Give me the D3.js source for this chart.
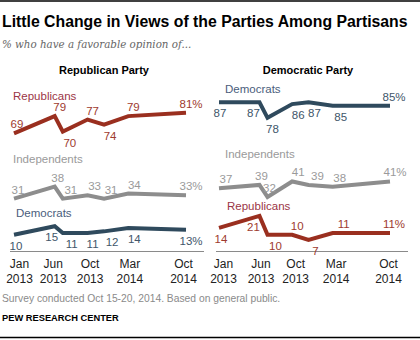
<!DOCTYPE html>
<html>
<head>
<meta charset="utf-8">
<script src="https://cdn.jsdelivr.net/npm/d3@7"></script>
<style>
  html, body { margin: 0; padding: 0; background: #fff; }
  svg { display: block; font-family: "Liberation Sans", Arial, sans-serif; }
</style>
</head>
<body>
<svg id="chart" width="420" height="340"></svg>
<script>
// Survey waves
const surveyDates = ["2013-01-01", "2013-06-01", "2013-07-01", "2013-10-01", "2013-12-01", "2014-03-01", "2014-10-01"];
const tickDates = ["2013-01-01", "2013-06-01", "2013-10-01", "2014-03-01", "2014-10-01"];
const tickMonths = ["Jan", "Jun", "Oct", "Mar", "Oct"];
const tickYears = ["2013", "2013", "2013", "2014", "2014"];

// Favorable view of the Republican Party
const repPartyRepublicans = [69, 79, 70, 77, 74, 79, 81];
const repPartyIndependents = [31, 38, 31, 33, 31, 34, 33];
const repPartyDemocrats = [10, 15, 11, 11, 12, 14, 13];

// Favorable view of the Democratic Party
const demPartyDemocrats = [87, 87, 78, 86, 87, 85, 85];
const demPartyIndependents = [37, 39, 32, 41, 39, 38, 41];
const demPartyRepublicans = [14, 21, 10, 10, 7, 11, 11];

const parse = d3.timeParse("%Y-%m-%d");
const dates = surveyDates.map(parse);
const ticks = tickDates.map(parse);

const colors = {
  Republicans: { line: "#9a2f1f", text: "#9e3a2e", name: "#9b3546" },
  Independents: { line: "#8d8d8d", text: "#9a9a9a", name: "#9a9a9a" },
  Democrats: { line: "#2f4a5d", text: "#41566a", name: "#4a5d7c" }
};

// value-label placement: side (a = above, b = below) and horizontal nudge
const place = {
  left: {
    Republicans: { side: "aababaa".split(""), dx: [3, 5, 7, 5, 6, 5, 5] },
    Independents: { side: "aaaaaaa".split(""), dx: [4, 3, 8, 7, 7, 6, 5] },
    Democrats: { side: "bbbbbbb".split(""), dx: [2, -3, 9, 5, 8, 6, 5] }
  },
  right: {
    Democrats: { side: "bbbbbba".split(""), dx: [1, -6, 5, 6, 6, 8, 4] },
    Independents: { side: "aaaaaaa".split(""), dx: [7, 2, 2, 6, 9, 7, 5] },
    Republicans: { side: "bbbabaa".split(""), dx: [2, -6, 8, 5, 7, 11, 4] }
  }
};

const panels = [
  {
    key: "left", title: "Republican Party", x0: 14, x1: 186, axis: [10, 204], titleX: 104,
    series: [
      { name: "Republicans", values: repPartyRepublicans, nameAt: [13, 100] },
      { name: "Independents", values: repPartyIndependents, nameAt: [13, 163] },
      { name: "Democrats", values: repPartyDemocrats, nameAt: [16, 217] }
    ],
    tickShift: [5, -2, 2, 1, -3]
  },
  {
    key: "right", title: "Democratic Party", x0: 219, x1: 390, axis: [216, 408], titleX: 308,
    series: [
      { name: "Democrats", values: demPartyDemocrats, nameAt: [225, 93] },
      { name: "Independents", values: demPartyIndependents, nameAt: [225, 158] },
      { name: "Republicans", values: demPartyRepublicans, nameAt: [227, 210] }
    ],
    tickShift: [4, 1, 3, 3, -2]
  }
];

const svg = d3.select("#chart");
const y = d3.scaleLinear().domain([0, 100]).range([252, 80]);

// Frame rules
svg.append("line").attr("x1", 0).attr("x2", 420).attr("y1", 1).attr("y2", 1)
  .attr("stroke", "#000").attr("stroke-width", 1.5);
svg.append("line").attr("x1", 0).attr("x2", 420).attr("y1", 337.5).attr("y2", 337.5)
  .attr("stroke", "#000").attr("stroke-width", 1.5);

svg.append("text").attr("x", 2).attr("y", 27)
  .attr("font-size", 15.8).attr("font-weight", "bold").attr("fill", "#000")
  .text("Little Change in Views of the Parties Among Partisans");

svg.append("text").attr("x", 2).attr("y", 48)
  .attr("font-family", "'DejaVu Serif', 'Liberation Serif', Georgia, serif")
  .attr("font-style", "italic").attr("font-size", 10.3).attr("fill", "#666")
  .text("% who have a favorable opinion of...");

panels.forEach(p => {
  const x = d3.scaleTime().domain([ticks[0], ticks[ticks.length - 1]]).range([p.x0, p.x1]);
  const g = svg.append("g");

  g.append("text").attr("x", p.titleX).attr("y", 74).attr("text-anchor", "middle")
    .attr("font-size", 11).attr("font-weight", "bold").attr("fill", "#000")
    .text(p.title);

  // baseline axis with two-line tick labels
  const axis = d3.axisBottom(x).tickValues(ticks).tickSize(0).tickFormat(() => "");
  const ag = g.append("g").attr("transform", "translate(0,251.5)").call(axis);
  ag.select(".domain").remove();
  ag.append("line").attr("x1", p.axis[0]).attr("x2", p.axis[1])
    .attr("stroke", "#8a8a8a").attr("stroke-width", 1);
  ag.selectAll(".tick").each(function (d, i) {
    const t = d3.select(this).select("text")
      .attr("y", 0).attr("dy", null)
      .attr("font-size", 12).attr("fill", "#222")
      .attr("font-family", "'Liberation Sans', Arial, sans-serif");
    t.append("tspan").attr("x", p.tickShift[i]).attr("y", 16).text(tickMonths[i]);
    t.append("tspan").attr("x", p.tickShift[i]).attr("y", 31).text(tickYears[i]);
  });

  p.series.forEach(s => {
    const c = colors[s.name];
    const pts = s.values.map((v, i) => ({ date: dates[i], v }));
    const line = d3.line().x(d => x(d.date)).y(d => y(d.v));

    g.append("path").datum(pts).attr("d", line)
      .attr("fill", "none").attr("stroke", c.line).attr("stroke-width", 4)
      .attr("stroke-linejoin", "miter");

    g.append("text").attr("x", s.nameAt[0]).attr("y", s.nameAt[1])
      .attr("font-size", 11.5).attr("fill", c.name).text(s.name);

    const pl = place[p.key][s.name];
    g.selectAll(null).data(pts).join("text")
      .attr("x", (d, i) => x(d.date) + pl.dx[i])
      .attr("y", (d, i) => y(d.v) + (pl.side[i] === "a" ? -5 : 15))
      .attr("text-anchor", "middle")
      .attr("font-size", 11.5).attr("fill", c.text)
      .text((d, i) => i === pts.length - 1 ? d.v + "%" : d.v);
  });
});

svg.append("text").attr("x", 2).attr("y", 302)
  .attr("font-size", 10.3).attr("fill", "#8a8a8a")
  .text("Survey conducted Oct 15-20, 2014.  Based on general public.");
svg.append("text").attr("x", 2).attr("y", 321)
  .attr("font-size", 9.3).attr("font-weight", "bold").attr("fill", "#000")
  .text("PEW RESEARCH CENTER");
</script>
</body>
</html>
